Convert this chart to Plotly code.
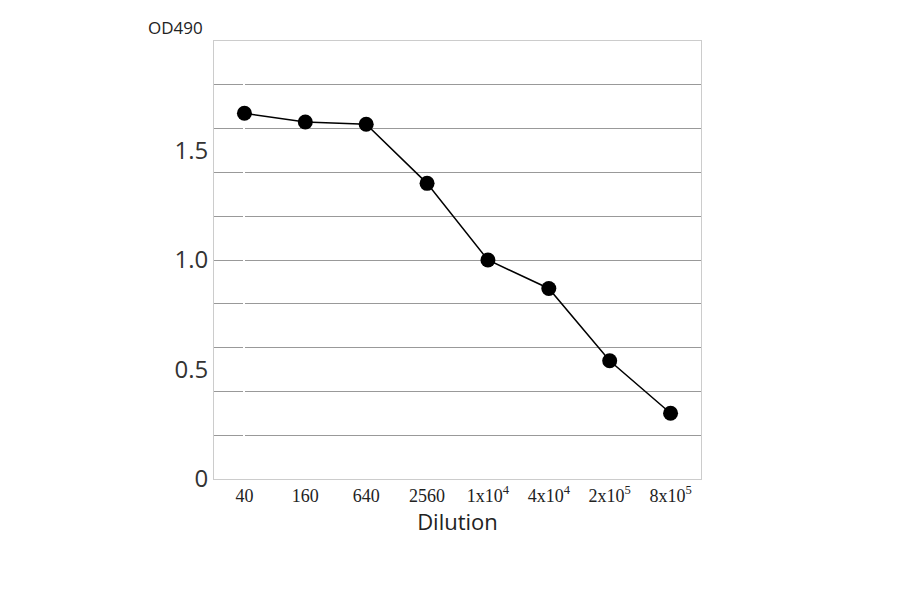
import plotly.graph_objects as go

categories = ["40", "160", "640", "2560", "1x10<sup>4</sup>", "4x10<sup>4</sup>", "2x10<sup>5</sup>", "8x10<sup>5</sup>"]
od490 = [1.67, 1.63, 1.62, 1.35, 1.00, 0.87, 0.54, 0.30]
ytick_vals = [0, 0.5, 1.0, 1.5]
ytick_text = ["0", "0.5", "1.0", "1.5"]

fig = go.Figure(go.Scatter(
    x=list(range(len(categories))), y=od490, mode="lines+markers",
    line=dict(color="black", width=1.5),
    marker=dict(color="black", size=15),
))
fig.update_layout(
    width=900, height=594, plot_bgcolor="white", paper_bgcolor="white",
    margin=dict(l=206, r=207, t=33, b=123), showlegend=False,
    xaxis=dict(range=[-0.5, 7.5], tickvals=list(range(len(categories))), ticktext=categories,
               showgrid=False, showline=True, linecolor="#cccccc", mirror=True,
               tickfont=dict(family="Liberation Serif", size=18, color="#222"),
               title=dict(text="Dilution", font=dict(family="Open Sans", size=22, color="#222"), standoff=8)),
    yaxis=dict(range=[0, 2.0], tickvals=ytick_vals, ticktext=ytick_text, showgrid=False,
               showline=True, linecolor="#cccccc", mirror=True, ticklen=0,
               tickfont=dict(family="Open Sans", size=24, color="#333"),
               minor=dict(dtick=0.2, showgrid=True, gridcolor="#999999", gridwidth=1)),
    font=dict(family="Open Sans"),
)
fig.add_annotation(text="OD490", xref="x domain", yref="y domain", x=-0.08, y=1.0,
                   xanchor="center", yanchor="bottom", showarrow=False,
                   font=dict(size=17, color="#222"))
fig.write_html("out.html")
